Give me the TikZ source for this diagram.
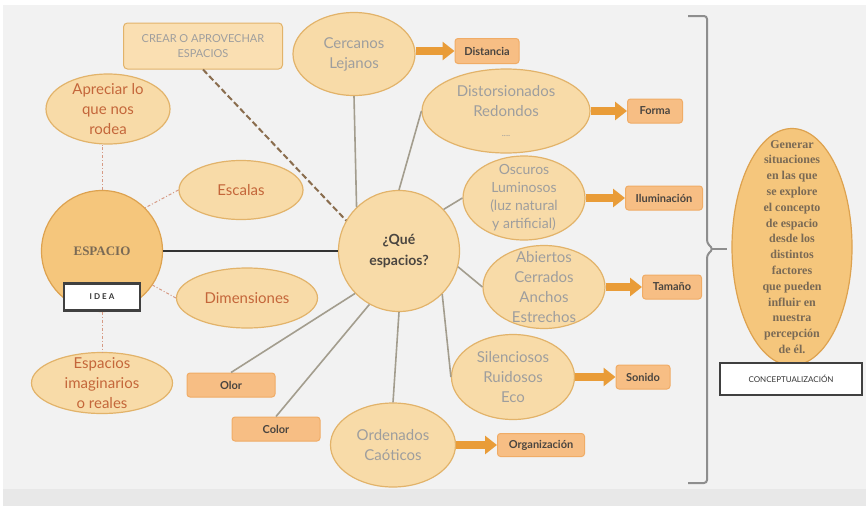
\documentclass[tikz,border=0pt]{standalone}
\usepackage{fontspec}
\newfontfamily\gill{Lato}
\newfontfamily\book{Liberation Serif}
\usetikzlibrary{arrows.meta, shapes.geometric}
\definecolor{cbg}{HTML}{F2F2F2}
\definecolor{cband}{HTML}{E8E8E8}
\definecolor{cpeach}{HTML}{F8DBA8}
\definecolor{cedge}{HTML}{E2B36A}
\definecolor{cgold}{HTML}{F5C67C}
\definecolor{cgoldedge}{HTML}{DDA24F}
\definecolor{ccream}{HTML}{FADFB2}
\definecolor{ctag}{HTML}{F7BE84}
\definecolor{ctagedge}{HTML}{F0AC66}
\definecolor{carrow}{HTML}{E99C38}
\definecolor{cspoke}{HTML}{A39D8E}
\definecolor{crust}{HTML}{C4663A}
\definecolor{cmute}{HTML}{9E9E9E}
\definecolor{cink}{HTML}{4A4540}
\definecolor{cbrown}{HTML}{7A6A55}
\definecolor{cdot}{HTML}{D69A84}
\definecolor{cdash}{HTML}{8A6D4E}
\definecolor{cbrace}{HTML}{8E8E8E}
\tikzset{
  every picture/.style={line width=1pt},
  bubble/.style={ellipse, draw=cedge, fill=cpeach, line width=1.2pt, inner sep=-20pt, align=center, text=cmute, font=\gill\fontsize{15}{20}\selectfont},
  notion/.style={bubble, text=crust},
  hub/.style={circle, draw=cgoldedge, fill=cgold, line width=1.2pt, minimum size=121pt, inner sep=0pt, align=center},
  tag/.style={draw=ctagedge, fill=ctag, rounded corners=3pt, inner sep=0pt, minimum height=24pt, text=cink, font=\gill\bfseries\fontsize{11}{13}\selectfont},
  plate/.style={draw=black!75, line width=2.2pt, fill=white, inner sep=0pt, text=black!80},
  push/.style={-{Triangle[length=12pt, width=18pt]}, draw=carrow, line width=8pt},
  spoke/.style={draw=cspoke, line width=1.6pt},
  link/.style={draw=cdot, line width=1pt, dash pattern=on 3pt off 2pt on 1pt off 2pt},
}
\begin{document}
\begin{tikzpicture}[x=1pt, y=-1pt]
  \useasboundingbox (0,0) rectangle (866,506);
  \fill[cbg] (3,5) rectangle (866,489);
  \fill[cband] (3,489) rectangle (866,506);
  % left side
  \node[hub, text=cbrown, font=\book\bfseries\fontsize{13}{15}\selectfont] (esp) at (102,251) {ESPACIO};
  \node[plate, minimum width=76pt, minimum height=27pt, font=\gill\bfseries\addfontfeature{LetterSpace=25}\fontsize{8}{10}\selectfont] (idea) at (102,297) {IDEA};
  \node[notion, minimum width=124pt, minimum height=70pt] (apr) at (108,109) {Apreciar lo\\que nos\\rodea};
  \node[notion, minimum width=124pt, minimum height=59pt] (esc) at (241,190) {Escalas};
  \node[notion, minimum width=141pt, minimum height=60pt] (dim) at (247,298) {Dimensiones};
  \node[notion, minimum width=141pt, minimum height=61pt] (ima) at (102,383) {Espacios\\imaginarios\\o reales};
  \node[draw=cedge, fill=ccream, rounded corners=4pt, minimum width=159pt, minimum height=46pt, align=center, text=cmute, font=\gill\fontsize{11}{15}\selectfont] (crear) at (203,46) {CREAR O APROVECHAR\\ESPACIOS};
  % centre
  \node[hub, fill=cpeach, draw=cedge, text=cink, font=\gill\bfseries\fontsize{14}{21}\selectfont] (que) at (399,251) {¿Qué\\espacios?};
  \node[bubble, minimum width=122pt, minimum height=83pt] (cer) at (354,54) {Cercanos\\Lejanos};
  \node[bubble, minimum width=168pt, minimum height=84pt] (dis) at (506,111) {Distorsionados\\Redondos\\{\fontsize{9}{20}\selectfont ....}};
  \node[bubble, minimum width=122pt, minimum height=84pt, font=\gill\fontsize{14}{18}\selectfont] (osc) at (524,198) {Oscuros\\Luminosos\\(luz natural\\y artificial)};
  \node[bubble, minimum width=122pt, minimum height=83pt] (abi) at (544,287) {Abiertos\\Cerrados\\Anchos\\Estrechos};
  \node[bubble, minimum width=123pt, minimum height=85pt] (sil) at (513,377) {Silenciosos\\Ruidosos\\Eco};
  \node[bubble, minimum width=125pt, minimum height=84pt] (ord) at (393,445) {Ordenados\\Caóticos};
  % tags
  \node[tag, minimum width=64pt, minimum height=25pt] (dist) at (487,51) {Distancia};
  \node[tag, minimum width=55pt] (forma) at (655,111) {Forma};
  \node[tag, minimum width=77pt] (ilum) at (664,198) {Iluminación};
  \node[tag, minimum width=59pt] (tam) at (672,287) {Tamaño};
  \node[tag, minimum width=54pt] (son) at (643,377) {Sonido};
  \node[tag, minimum width=87pt, minimum height=23pt] (org) at (541,445) {Organización};
  \node[tag, minimum width=88pt] (olor) at (231,385) {Olor};
  \node[tag, minimum width=88pt] (col) at (276,429) {Color};
  % right side
  \node[bubble, fill=cgold, draw=cgoldedge, minimum width=120pt, minimum height=237pt, inner ysep=-40pt, text=cbrown, font=\book\bfseries\fontsize{12}{15.8}\selectfont] (gen) at (792,247) {Generar\\situaciones\\en las que\\se explore\\el concepto\\de espacio\\desde los\\distintos\\factores\\que pueden\\influir en\\nuestra\\percepción\\de él.};
  \node[plate, minimum width=142pt, minimum height=32pt, font=\gill\fontsize{8}{10}\selectfont] (conc) at (791,379) {CONCEPTUALIZACIÓN};
  \draw[cbrace, line width=2pt, rounded corners=3pt] (688,16) -- (707,16) -- (707,243) -- (713,249) -- (707,255) -- (707,483) -- (688,483);
  \draw[cbrace, line width=2pt] (711,249) -- (727,249);
  % connectors
  \draw[black!80, line width=2.5pt] (esp.east) -- (que.west);
  \draw[cdash, line width=2pt, dash pattern=on 6pt off 3pt] (crear.south) -- (que.150);
  \draw[link] (esp.north) -- (esp.north |- apr.south);
  \draw[link] (esc.west) -- (esp.45);
  \draw[link] (dim.west) -- (esp.-34);
  \draw[link] (idea.south) -- (ima.north);
  \foreach \a/\b in {cer.south/que.134, dis.west/que.north, osc.west/que.43, abi.west/que.-15, sil.west/que.-45, ord.north/que.south, olor.north/que.224, col.north/que.241}
    \draw[spoke] (\a) -- (\b);
  \foreach \a/\b in {cer/dist, dis/forma, osc/ilum, abi/tam, sil/son, ord/org}
    \draw[push] (\a.east |- \b.west) -- (\b.west);
\end{tikzpicture}
\end{document}
